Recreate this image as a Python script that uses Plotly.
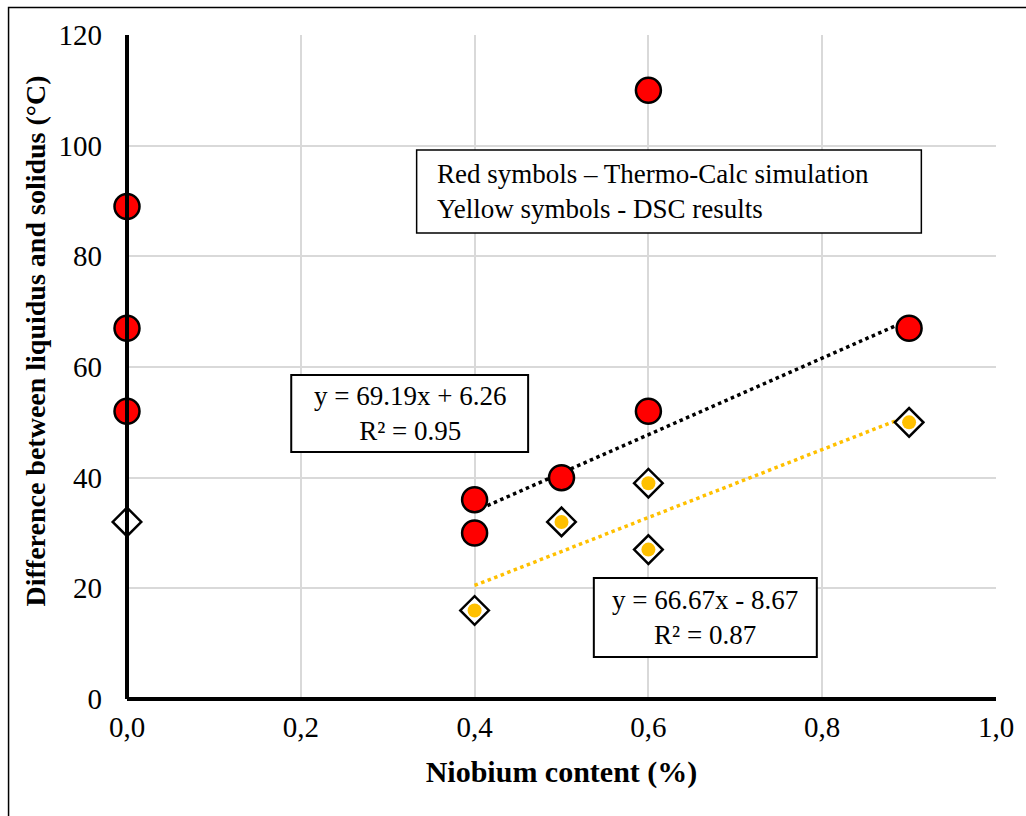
import numpy as np
import plotly.graph_objects as go

# Thermo-Calc simulation (red circles)
red_x = [0.0, 0.0, 0.0, 0.4, 0.4, 0.5, 0.6, 0.6, 0.9]
red_y = [89, 67, 52, 36, 30, 40, 52, 110, 67]

# DSC results (yellow diamonds)
dsc_x = [0.4, 0.5, 0.6, 0.6, 0.9]
dsc_y = [16, 32, 39, 27, 50]

# DSC point at 0 % Nb (open diamond)
dsc0_x = [0.0]
dsc0_y = [32]

# Trendline fit points (Nb > 0)
fit_red_x = [0.4, 0.4, 0.5, 0.6, 0.9]
fit_red_y = [36, 30, 40, 52, 67]

x_ticks = [0.0, 0.2, 0.4, 0.6, 0.8, 1.0]
x_tick_text = ["0,0", "0,2", "0,4", "0,6", "0,8", "1,0"]
y_ticks = [0, 20, 40, 60, 80, 100, 120]

x_title = "Niobium content (%)"
y_title = "Difference between liquidus and solidus (°C)"
eq_red = "y = 69.19x + 6.26<br>R² = 0.95"
eq_dsc = "y = 66.67x - 8.67<br>R² = 0.87"
legend_text = "Red symbols – Thermo-Calc simulation<br>Yellow symbols - DSC results"

FONT = "Times New Roman, Liberation Serif, serif"
YEL = "#FFC000"

fig = go.Figure()

# trendlines
xr = np.array([min(fit_red_x), max(fit_red_x)])
kr, br = np.polyfit(fit_red_x, fit_red_y, 1)
fig.add_trace(go.Scatter(x=xr, y=kr * xr + br, mode="lines",
                         line=dict(color="black", width=3.5, dash="dot"),
                         showlegend=False, hoverinfo="skip"))
xd = np.array([min(dsc_x), max(dsc_x)])
kd, bd = np.polyfit(dsc_x, dsc_y, 1)
fig.add_trace(go.Scatter(x=xd, y=kd * xd + bd, mode="lines",
                         line=dict(color=YEL, width=3.5, dash="dot"),
                         showlegend=False, hoverinfo="skip"))

# red circles
fig.add_trace(go.Scatter(x=red_x, y=red_y, mode="markers",
                         marker=dict(symbol="circle", size=25, color="#FF0000",
                                     line=dict(color="black", width=2.5)),
                         showlegend=False, cliponaxis=False))

# DSC diamonds (white diamond, yellow circle inside)
fig.add_trace(go.Scatter(x=dsc_x, y=dsc_y, mode="markers",
                         marker=dict(symbol="diamond", size=22, color="white",
                                     line=dict(color="black", width=2.5)),
                         showlegend=False))
fig.add_trace(go.Scatter(x=dsc_x, y=dsc_y, mode="markers",
                         marker=dict(symbol="circle", size=14, color=YEL,
                                     line=dict(width=0)),
                         showlegend=False))
fig.add_trace(go.Scatter(x=dsc0_x, y=dsc0_y, mode="markers",
                         marker=dict(symbol="diamond", size=22, color="white",
                                     line=dict(color="black", width=2.5)),
                         showlegend=False, cliponaxis=False))

fig.update_layout(
    width=1026, height=816,
    margin=dict(l=127, r=26, t=35, b=117),
    paper_bgcolor="white", plot_bgcolor="white",
    font=dict(family=FONT, color="black", size=28),
    xaxis=dict(range=[0, 1.0], tickvals=x_ticks, ticktext=x_tick_text,
               showgrid=True, gridcolor="#d9d9d9", gridwidth=2,
               zeroline=False, showline=False, ticks="",
               tickfont=dict(size=29, family=FONT), ticklabelstandoff=8,
               title=dict(text="<b>" + x_title + "</b>",
                          font=dict(size=30, family=FONT), standoff=18)),
    yaxis=dict(range=[0, 120], tickvals=y_ticks,
               showgrid=True, gridcolor="#d9d9d9", gridwidth=2,
               zeroline=False, showline=False, ticks="",
               tickfont=dict(size=29, family=FONT), ticklabelstandoff=24),
    shapes=[
        # axis lines
        dict(type="line", xref="paper", yref="paper", x0=0, x1=0, y0=0, y1=1,
             line=dict(color="black", width=4)),
        dict(type="line", xref="paper", yref="paper", x0=0, x1=1, y0=0, y1=0,
             line=dict(color="black", width=4)),
        # outer chart border
        dict(type="rect", xref="paper", yref="paper", x0=-0.1363, x1=1.05,
             y0=-0.25, y1=1.0415, line=dict(color="black", width=1.5),
             layer="below"),
        # text boxes
        dict(type="rect", xref="x", yref="y", x0=0.3333, x1=0.9141, y0=84.2, y1=99.2,
             line=dict(color="black", width=1.5), fillcolor="white", layer="above"),
        dict(type="rect", xref="x", yref="y", x0=0.189, x1=0.4616, y0=44.64, y1=58.56,
             line=dict(color="black", width=2), fillcolor="white", layer="above"),
        dict(type="rect", xref="x", yref="y", x0=0.5372, x1=0.7938, y0=7.59, y1=21.87,
             line=dict(color="black", width=2), fillcolor="white", layer="above"),
    ],
    annotations=[
        dict(text="<b>" + y_title + "</b>", x=-0.1054, y=0.539, xref="paper", yref="paper",
             textangle=-90, showarrow=False, font=dict(size=28, family=FONT),
             xanchor="center", yanchor="middle"),
        dict(text=legend_text, x=0.354, y=91.7, xref="x", yref="y",
             showarrow=False, align="left", font=dict(size=27, family=FONT),
             xanchor="left", yanchor="middle"),
        dict(text=eq_red, x=0.3253, y=51.6, xref="x", yref="y",
             showarrow=False, align="center", font=dict(size=27, family=FONT),
             xanchor="center", yanchor="middle"),
        dict(text=eq_dsc, x=0.6655, y=14.7, xref="x", yref="y",
             showarrow=False, align="center", font=dict(size=27, family=FONT),
             xanchor="center", yanchor="middle"),
    ],
)

fig.write_html("out.html")
